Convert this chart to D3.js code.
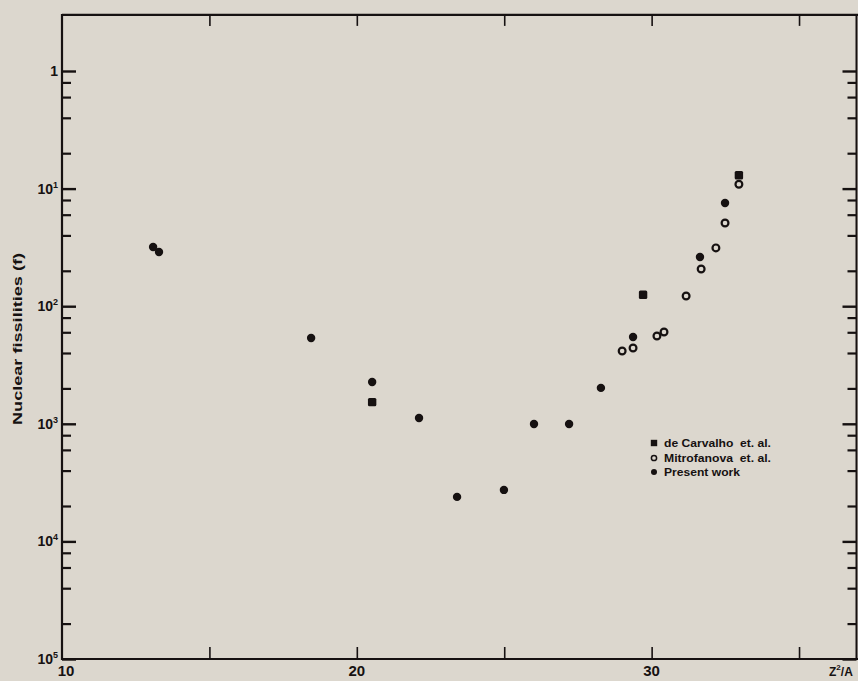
<!DOCTYPE html>
<html>
<head>
<meta charset="utf-8">
<script src="https://cdn.jsdelivr.net/npm/d3@7"></script>
<style>
  html, body { margin: 0; padding: 0; background: #dcd7ce; }
  svg { display: block; }
  text { font-family: "Liberation Sans", Arial, sans-serif; fill: #161111; }
</style>
</head>
<body>
<svg id="chart" width="858" height="681"></svg>
<script>
// ---------- data ----------
// Present work (filled circles): Z^2/A, fissility
const presentZ = [13.09, 13.29, 18.45, 20.52, 22.11, 23.40, 24.99, 26.01, 27.20, 28.28, 29.37, 31.64, 32.49];
const presentF = [3.19e-2, 2.89e-2, 5.37e-3, 2.27e-3, 1.12e-3, 2.39e-4, 2.74e-4, 9.96e-4, 9.96e-4, 2.02e-3, 5.47e-3, 2.62e-2, 7.54e-2];
// de Carvalho et al. (filled squares)
const carvalhoZ = [20.52, 29.71, 32.96];
const carvalhoF = [1.53e-3, 1.25e-2, 0.130];
// Mitrofanova et al. (open circles)
const mitroZ = [29.00, 29.37, 30.18, 30.42, 31.17, 31.68, 32.18, 32.49, 32.96];
const mitroF = [4.16e-3, 4.41e-3, 5.58e-3, 6.03e-3, 1.22e-2, 2.07e-2, 3.13e-2, 5.10e-2, 0.109];

const xTickValues = [15, 20, 25, 30, 35];
const xTickLabels = [[10, "10"], [20, "20"], [30, "30"]];
const yMajorValues = [1, 1e-1, 1e-2, 1e-3, 1e-4, 1e-5];
const yMajorLabels = ["1", "10|1", "10|2", "10|3", "10|4", "10|5"];
const yMinorMults = [2, 4, 6, 8];
const legendLabels = ["de Carvalho  et. al.", "Mitrofanova  et. al.", "Present work"];
const yTitle = "Nuclear fissilities (f)";

// ---------- scales ----------
const ink = "#161111";
const svg = d3.select("#chart");
const x = d3.scaleLinear().domain([10, 37]).range([62, 858]);
const y = d3.scaleLog().domain([1e-5, 1]).range([659, 71]);
const yTopVal = 3;      // top frame of the plot
const pLeft = x(10), pRight = 856.5, pTop = y(yTopVal), pBottom = y(1e-5);

// frame
const frame = svg.append("g").attr("stroke", ink).attr("fill", "none");
frame.append("line").attr("x1", pLeft).attr("x2", pLeft).attr("y1", pTop - 1).attr("y2", pBottom + 1).attr("stroke-width", 2.2);
frame.append("line").attr("x1", pLeft).attr("x2", 858).attr("y1", pBottom).attr("y2", pBottom).attr("stroke-width", 2.2);
frame.append("line").attr("x1", pLeft).attr("x2", 858).attr("y1", pTop).attr("y2", pTop).attr("stroke-width", 2.2);
frame.append("line").attr("x1", pRight).attr("x2", pRight).attr("y1", pTop).attr("y2", pBottom).attr("stroke-width", 2);

// minor y tick values
const yMinor = [];
for (let e = -5; e < 0; e++) yMinorMults.forEach(m => yMinor.push(m * Math.pow(10, e)));

function styleAxis(g, w) {
  g.select(".domain").remove();
  g.selectAll(".tick line").attr("stroke", ink).attr("stroke-width", w);
  g.selectAll(".tick text").remove();
}
// left axis ticks (inward)
svg.append("g").attr("transform", `translate(${pLeft},0)`)
  .call(d3.axisLeft(y).tickValues(yMajorValues).tickSize(-14).tickFormat(""))
  .call(g => styleAxis(g, 2.4));
svg.append("g").attr("transform", `translate(${pLeft},0)`)
  .call(d3.axisLeft(y).tickValues(yMinor).tickSize(-9).tickFormat(""))
  .call(g => styleAxis(g, 2.2));
// right axis ticks (inward)
svg.append("g").attr("transform", `translate(${pRight},0)`)
  .call(d3.axisRight(y).tickValues(yMajorValues).tickSize(-14).tickFormat(""))
  .call(g => styleAxis(g, 2.4));
svg.append("g").attr("transform", `translate(${pRight},0)`)
  .call(d3.axisRight(y).tickValues(yMinor).tickSize(-9).tickFormat(""))
  .call(g => styleAxis(g, 2.2));
// bottom / top x ticks (inward)
svg.append("g").attr("transform", `translate(0,${pBottom})`)
  .call(d3.axisBottom(x).tickValues(xTickValues).tickSize(-12).tickFormat(""))
  .call(g => styleAxis(g, 1.6));
svg.append("g").attr("transform", `translate(0,${pTop})`)
  .call(d3.axisTop(x).tickValues(xTickValues).tickSize(-11).tickFormat(""))
  .call(g => styleAxis(g, 1.6));

// y tick labels
yMajorValues.forEach((v, i) => {
  const parts = yMajorLabels[i].split("|");
  const t = svg.append("text")
    .attr("x", 58).attr("y", y(v) + 5)
    .attr("text-anchor", "end")
    .attr("font-size", 14).attr("font-weight", "bold");
  t.append("tspan").text(parts[0]);
  if (parts[1]) t.append("tspan").attr("dy", -6).attr("font-size", 9).text(parts[1]);
});

// x tick labels
xTickLabels.forEach(([v, s]) => {
  svg.append("text").attr("x", x(v) + (v === 10 ? 4 : 0)).attr("y", 676)
    .attr("text-anchor", "middle").attr("font-size", 15).attr("font-weight", "bold").text(s);
});
const zl = svg.append("text").attr("x", 829).attr("y", 676).attr("font-size", 12).attr("font-weight", "bold");
zl.append("tspan").text("Z");
zl.append("tspan").attr("dy", -6).attr("font-size", 8).text("2");
zl.append("tspan").attr("dy", 6).text("/A");

// y title
svg.append("text")
  .attr("transform", `translate(22,${339}) rotate(-90)`)
  .attr("text-anchor", "middle")
  .attr("font-size", 13).attr("font-weight", "bold")
  .attr("textLength", 172).attr("lengthAdjust", "spacingAndGlyphs")
  .text(yTitle);

// ---------- data marks ----------
const present = presentZ.map((z, i) => ({ z, f: presentF[i] }));
const carvalho = carvalhoZ.map((z, i) => ({ z, f: carvalhoF[i] }));
const mitro = mitroZ.map((z, i) => ({ z, f: mitroF[i] }));

svg.append("g").selectAll("circle").data(mitro).join("circle")
  .attr("cx", d => x(d.z)).attr("cy", d => y(d.f)).attr("r", 3.4)
  .attr("fill", "none").attr("stroke", ink).attr("stroke-width", 2.2);
svg.append("g").selectAll("rect").data(carvalho).join("rect")
  .attr("x", d => x(d.z) - 4.2).attr("y", d => y(d.f) - 4.2)
  .attr("width", 8.4).attr("height", 8.4).attr("rx", 1.5).attr("fill", ink);
svg.append("g").selectAll("circle").data(present).join("circle")
  .attr("cx", d => x(d.z)).attr("cy", d => y(d.f)).attr("r", 4.2).attr("fill", ink);

// ---------- legend ----------
const lg = svg.append("g");
const lx = 654, ly = [443, 458, 472];
lg.append("rect").attr("x", lx - 3.2).attr("y", ly[0] - 3.2).attr("width", 6.4).attr("height", 6.4).attr("fill", ink);
lg.append("circle").attr("cx", lx).attr("cy", ly[1]).attr("r", 2.6).attr("fill", "none").attr("stroke", ink).attr("stroke-width", 1.5);
lg.append("circle").attr("cx", lx).attr("cy", ly[2]).attr("r", 3).attr("fill", ink);
const lens = [107, 107, 76];
legendLabels.forEach((s, i) => {
  lg.append("text").attr("x", 664).attr("y", ly[i] + 4)
    .attr("font-size", 10.5).attr("font-weight", "bold")
    .attr("xml:space", "preserve")
    .attr("textLength", lens[i]).attr("lengthAdjust", "spacingAndGlyphs")
    .text(s);
});
</script>
</body>
</html>
